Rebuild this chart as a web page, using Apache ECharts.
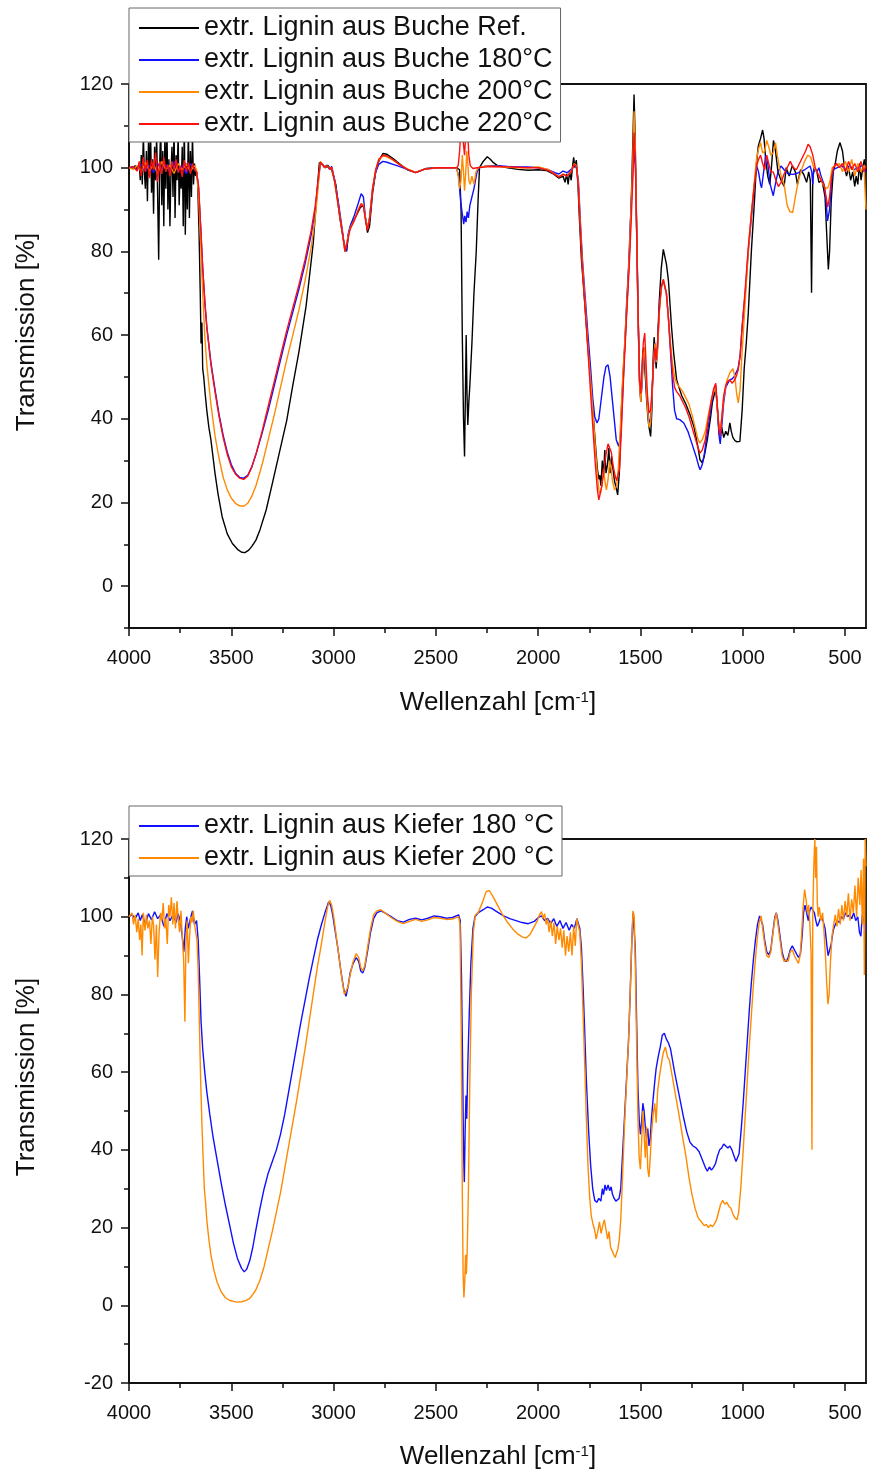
<!DOCTYPE html>
<html><head><meta charset="utf-8">
<script src="https://cdn.jsdelivr.net/npm/echarts@6/dist/echarts.min.js"></script>
<style>html,body{margin:0;padding:0;background:#fff}#c{width:869px;height:1474px}</style>
</head><body><div id="c"></div>
<script>
// ---------- DATA (wavenumber cm-1, transmission %) ----------
const xTicks = [4000, 3500, 3000, 2500, 2000, 1500, 1000, 500];
const yTicksTop = [0, 20, 40, 60, 80, 100, 120];
const yTicksBottom = [-20, 0, 20, 40, 60, 80, 100, 120];

const namesTop = ['extr. Lignin aus Buche Ref.', 'extr. Lignin aus Buche 180°C', 'extr. Lignin aus Buche 200°C', 'extr. Lignin aus Buche 220°C'];
const namesBottom = ['extr. Lignin aus Kiefer 180 °C', 'extr. Lignin aus Kiefer 200 °C'];

const bucheRef = [[4000,100],[3990,100],[3980,99.8],[3970,100.5],[3960,99.5],[3950,101],[3945,97],[3940,103],[3935,96],[3930,108],[3925,99],[3920,95],[3915,104],[3910,92],[3905,106],[3900,98],[3895,110],[3890,94],[3885,102],[3880,89],[3875,105],[3870,97],[3865,108],[3860,93],[3855,78],[3850,101],[3845,110],[3840,91],[3835,104],[3830,86],[3825,107],[3820,95],[3815,112],[3810,90],[3805,102],[3800,86],[3795,99],[3790,105],[3785,93],[3780,110],[3775,88],[3770,103],[3765,97],[3760,108],[3755,91],[3750,100],[3745,95],[3740,105],[3735,86],[3730,112],[3725,84],[3720,101],[3715,90],[3710,110],[3705,88],[3700,104],[3695,93],[3690,108],[3685,96],[3680,101],[3675,98],[3670,99],
[3665,97],[3658,85],[3652,70],[3648,58],[3644,63],[3640,52],[3635,50],[3628,46],[3620,42],[3610,38],[3600,35],[3590,31],[3580,27],[3565,22],[3545,16.6],[3520,12.5],[3495,10.2],[3470,8.8],[3450,8.1],[3434,8],[3415,8.6],[3400,9.5],[3380,11],[3360,13.5],[3330,18.2],[3300,24.5],[3266,31.8],[3230,39.5],[3201,47.7],[3170,56],[3135,66.9],[3100,82],[3085,92],[3070,101.2],[3060,101],[3050,100.5],[3040,100],[3030,100.6],[3020,100],[3010,99.5],[2990,96],[2970,88],[2950,82],[2937,80],[2928,84],[2915,86.5],[2890,88.5],[2870,90.5],[2855,91],[2845,88],[2835,84.5],[2825,86],[2810,94],[2795,99],[2780,101.5],[2760,103.4],[2740,103.2],[2710,102.2],[2680,101],[2640,99.5],[2600,98.8],[2580,99.2],[2550,99.8],[2500,100],[2450,100],[2400,100],[2385,99.5],[2378,90],[2372,60],[2366,40],[2361,31],[2357,45],[2353,60],[2349,46],[2345,38.5],[2340,44],[2335,48],[2325,58],[2315,70],[2304,79.8],[2295,92],[2288,100],[2270,101.5],[2250,102.6],[2235,102],[2220,101.2],[2200,100.5],[2150,100],[2100,99.6],[2050,99.4],[2000,99.5],[1960,99.3],[1930,98.6],[1900,97.5],[1880,98],[1870,96.5],[1862,98.5],[1855,96],[1848,99],[1840,97],[1833,100.5],[1828,102.5],[1822,100],[1815,101.8],[1808,97],[1800,88],[1790,78],[1782,73],[1770,65],[1758,57],[1745,49],[1733,41.4],[1722,34],[1712,28],[1705,25.5],[1700,26.5],[1695,24],[1688,30],[1682,26],[1676,32.5],[1670,27],[1663,29],[1656,33],[1650,27],[1643,31],[1636,28],[1628,25],[1620,23.5],[1613,21.8],[1605,27],[1595,42],[1585,52],[1578,57.3],[1565,70],[1554,81.3],[1545,95],[1538,108],[1533,117.5],[1528,108],[1520,85],[1513,65],[1506,49],[1500,44],[1495,50],[1490,56],[1485,57],[1480,52],[1472,45],[1465,40],[1460,38],[1452,35.8],[1446,42],[1440,54],[1435,59.5],[1431,57],[1425,52],[1420,56],[1410,68],[1400,76],[1390,80.5],[1383,80.3],[1375,77],[1365,73],[1350,62],[1340,56],[1325,49.3],[1310,47],[1300,45.5],[1280,43.5],[1260,41],[1240,38],[1220,33],[1211,30.2],[1200,29.5],[1190,31],[1175,35],[1160,40],[1150,44],[1140,46],[1133,47],[1125,42],[1118,37],[1114,36],[1105,38],[1095,35.5],[1085,37],[1075,36],[1065,39],[1058,37],[1050,35.5],[1040,34.8],[1030,34.5],[1016,34.6],[1005,42],[995,52],[985,58],[975,65.3],[960,80],[945,92],[935,101],[926,105.2],[915,107],[905,109],[898,107],[890,102],[880,98],[870,96],[862,100],[852,106.5],[842,104],[830,99],[815,97],[800,95.5],[790,100],[775,98],[760,100.5],[745,99],[735,96],[720,99.5],[705,98.5],[690,96.5],[680,99],[672,97],[666,70.1],[660,98],[650,100],[640,99],[630,96.5],[615,97],[600,93],[590,82],[584,75.7],[578,80],[570,92],[560,99],[550,101],[540,104],[527,106],[515,104],[505,100],[495,98],[485,100],[475,97],[465,99],[455,95.5],[448,98],[440,96],[432,101],[424,97],[416,100],[408,102],[400,99]];

const buche180 = [[4000,100],[3980,100.2],[3960,99.5],[3940,100.8],[3920,99.2],[3900,100.5],[3880,98.8],[3860,101],[3840,99.5],[3820,100.8],[3800,99],[3780,101.5],[3760,99],[3740,100.5],[3720,98.5],[3700,101],[3680,99.5],[3670,99],
[3660,95],[3650,86],[3640,76],[3630,68],[3620,62],[3600,53.5],[3580,47],[3560,41],[3540,36],[3520,32],[3500,29],[3480,27],[3460,26],[3440,25.8],[3420,26.5],[3400,28.5],[3380,31.5],[3350,36.5],[3320,42],[3290,48],[3260,54],[3230,60],[3200,65.5],[3170,71],[3140,77],[3110,84],[3090,90],[3075,97],[3065,101.2],[3055,100.8],[3045,100],[3035,100.6],[3020,99.6],[3010,100.3],[2995,97],[2975,91],[2955,84],[2945,80],[2937,80.5],[2930,84],[2920,86],[2900,88.5],[2880,91.5],[2866,93.8],[2855,93],[2845,88],[2835,85.5],[2825,88],[2810,95],[2795,99],[2780,100.8],[2760,101.5],[2740,101.3],[2710,100.8],[2680,100.3],[2640,99.6],[2600,98.9],[2560,99.6],[2500,100],[2450,100],[2400,100],[2390,98],[2380,92],[2372,89],[2365,86.5],[2360,88.5],[2354,87],[2348,89.5],[2342,88],[2335,91],[2325,93],[2315,95],[2300,99],[2290,100],[2250,100.5],[2200,100.5],[2150,100.3],[2100,100.2],[2050,100.2],[2000,100],[1950,99.5],[1920,98.8],[1900,98.5],[1880,99.2],[1860,98.8],[1840,99.6],[1825,100.5],[1815,100.2],[1805,97],[1795,87],[1785,78],[1770,68],[1758,60],[1745,52],[1735,45],[1725,40.5],[1714,39],[1705,40],[1695,44],[1680,50],[1670,52.5],[1660,52.9],[1650,50],[1640,45],[1630,40],[1620,35],[1608,33.4],[1598,36],[1590,44],[1580,56],[1570,67],[1560,76],[1550,88],[1540,98],[1533,104],[1526,100],[1520,84],[1513,64],[1506,49],[1500,44.5],[1494,48],[1488,54],[1482,56],[1476,50],[1468,44],[1460,39],[1452,40],[1445,46],[1438,54],[1431,58],[1425,53.5],[1418,57],[1410,66],[1400,71.5],[1390,73],[1383,73.2],[1375,70],[1365,64],[1355,56],[1345,48],[1335,42],[1325,40],[1310,39.8],[1290,39],[1270,37],[1250,34],[1230,31],[1216,28.5],[1210,27.8],[1200,29],[1190,31.5],[1180,35],[1165,40],[1150,45],[1140,47.5],[1134,48],[1126,42],[1118,36],[1112,34],[1105,38],[1095,44],[1085,47.5],[1075,48.5],[1065,49.3],[1055,49.5],[1045,50],[1035,51],[1025,52],[1015,55],[1005,62],[990,70],[975,80],[960,88],[945,96],[934,100.4],[925,99],[915,96],[910,95.2],[900,99],[890,103],[880,101],[868,96],[853,93.3],[845,95.5],[830,99],[815,100.4],[800,99.5],[780,98.5],[755,98.4],[730,98.8],[700,99.5],[673,100.4],[665,99],[660,96],[655,100],[640,99],[630,100],[620,98],[605,96],[595,92],[588,87.3],[578,90],[568,97],[559,99.6],[540,100],[520,100.5],[500,99.5],[480,100.5],[460,99.5],[440,100],[420,100.5],[400,99]];

const buche200 = [[4000,100],[3980,99.6],[3960,100.5],[3940,99],[3920,101.2],[3900,99.3],[3880,100.8],[3860,98.5],[3840,101.5],[3820,99.5],[3800,100.5],[3780,98.6],[3760,101],[3740,99.5],[3720,100.8],[3700,99.2],[3680,100.5],[3670,99.5],
[3660,93],[3650,82],[3640,70],[3630,60],[3620,53],[3600,43.5],[3580,36],[3560,30.5],[3540,26],[3520,23],[3500,21],[3480,19.8],[3460,19.2],[3440,19.1],[3420,19.8],[3400,21.5],[3380,24],[3350,29],[3320,35],[3290,41],[3260,47.5],[3230,54],[3200,60],[3170,66],[3140,73],[3110,81],[3090,88],[3075,96],[3065,101.5],[3055,100.8],[3045,100],[3035,100.5],[3020,99.8],[3010,100],[2995,96.5],[2975,90],[2955,83.5],[2945,80],[2937,80.3],[2930,83.5],[2920,85.5],[2900,87.5],[2880,90],[2866,91.5],[2855,91],[2845,88],[2835,85.5],[2825,88],[2810,95],[2795,99.5],[2780,101.8],[2760,102.8],[2740,102.6],[2710,101.8],[2680,100.8],[2640,99.7],[2600,98.9],[2560,99.6],[2500,100],[2450,100],[2400,100],[2392,98],[2385,95],[2378,97],[2372,103],[2366,99],[2361,94.5],[2355,99],[2350,104],[2345,101],[2340,97],[2333,96],[2325,98],[2315,96],[2305,99],[2295,100],[2250,100.4],[2200,100.3],[2150,100.1],[2100,100],[2050,100],[2000,100.2],[1950,99.5],[1920,98.5],[1900,97.8],[1880,98.5],[1860,98],[1840,99.2],[1825,101],[1815,100.5],[1805,96],[1795,86],[1785,77],[1770,66],[1758,57],[1745,49],[1733,41],[1722,33],[1712,26.5],[1705,23],[1698,22],[1690,24],[1682,28],[1675,25],[1668,23],[1660,25.5],[1652,30],[1645,28],[1638,25],[1628,23],[1618,24],[1610,28],[1600,38],[1590,48],[1580,57],[1570,66],[1560,75],[1550,87],[1540,100],[1533,113.5],[1527,105],[1520,84],[1513,63],[1506,48],[1500,44],[1494,49],[1488,55],[1482,57],[1476,51],[1468,43],[1460,38],[1452,39],[1445,46],[1438,54],[1431,58],[1425,53.5],[1418,56],[1410,65],[1400,71],[1390,73.3],[1383,73.5],[1375,70],[1365,64],[1355,58],[1345,53],[1335,50],[1325,48.5],[1310,47.5],[1295,46.5],[1280,45],[1265,43.5],[1250,41],[1235,38],[1220,35],[1211,34.2],[1200,35],[1185,37],[1170,41],[1155,44.5],[1145,46.5],[1134,47.5],[1126,42],[1118,38],[1112,36.5],[1105,40],[1095,45],[1080,49],[1065,51],[1050,52],[1040,50],[1032,46],[1024,43.8],[1015,47],[1005,56],[990,68],[975,80],[960,89],[945,97],[935,102],[925,104.5],[915,106],[905,103.5],[895,104],[885,106.5],[875,105],[865,103],[853,103.6],[842,106],[830,102],[815,98],[800,96],[785,91],[772,89.5],[758,89.3],[745,93],[730,97],[715,99.5],[700,101.5],[685,103],[670,102.5],[655,100],[640,99],[625,98],[610,96],[595,95],[585,95.3],[575,97],[565,100],[550,100.5],[530,101],[515,99],[500,101.5],[485,99],[470,102],[455,98],[440,101],[425,99],[410,100.5],[405,95],[400,90]];

const buche220 = [[4000,100],[3980,100.3],[3960,99.2],[3950,101.5],[3940,98],[3930,102.5],[3920,99],[3910,101.8],[3900,97.5],[3890,102],[3880,99.5],[3870,103.6],[3860,96.6],[3850,101.5],[3840,98.5],[3830,102.5],[3820,99],[3810,100.8],[3800,98],[3790,101.5],[3780,99.5],[3770,102],[3760,98.8],[3750,100.5],[3740,97.8],[3730,101.8],[3720,99],[3710,101.2],[3700,98.5],[3690,101],[3680,99.5],[3670,99],
[3660,95.5],[3650,86],[3640,76],[3630,68.5],[3620,62],[3600,53],[3580,46.5],[3560,40.5],[3540,35.5],[3520,31.5],[3500,28.5],[3480,26.8],[3460,25.8],[3440,25.5],[3420,26.3],[3400,28.5],[3380,31.5],[3350,37],[3320,43],[3290,49],[3260,55],[3230,61],[3200,66.5],[3170,72],[3140,78],[3110,85],[3090,91],[3075,97.5],[3065,101.3],[3055,100.7],[3045,100.1],[3035,100.5],[3020,99.7],[3010,100.1],[2995,96.5],[2975,90],[2955,83.5],[2945,80],[2937,79.8],[2930,83],[2920,85.3],[2900,87.3],[2880,89.8],[2866,91.3],[2855,90.8],[2845,87.5],[2835,85],[2825,87.8],[2810,95],[2795,99.5],[2780,102],[2760,103],[2740,102.8],[2710,101.9],[2680,100.8],[2640,99.6],[2600,98.8],[2560,99.6],[2500,100],[2450,100],[2400,100],[2392,100.5],[2385,104],[2378,110],[2372,113],[2367,106],[2361,103],[2355,108],[2350,113],[2345,108],[2340,103],[2333,100.5],[2320,99.8],[2300,100],[2250,100.2],[2200,100.3],[2150,100.2],[2100,100.1],[2050,100],[2000,100],[1950,99.3],[1920,98.4],[1900,97.8],[1880,98.4],[1860,98],[1840,99],[1825,100.8],[1815,100.3],[1805,95.5],[1795,85],[1785,76],[1770,65],[1758,56],[1745,46],[1733,37],[1722,29],[1712,23],[1705,20.6],[1698,21],[1690,24],[1680,28],[1670,31.5],[1660,34],[1652,34.2],[1644,32],[1636,29],[1626,26.5],[1618,25.2],[1611,25],[1604,28],[1596,36],[1588,46],[1578,56],[1568,66],[1558,75],[1548,86],[1540,96],[1533,108.4],[1527,103],[1520,84],[1513,64],[1506,49],[1500,46],[1494,52],[1488,58],[1481,60.5],[1475,54],[1468,46],[1460,41.4],[1452,42],[1445,47],[1438,53],[1431,57],[1425,54],[1418,58],[1410,66],[1400,71.5],[1390,73.3],[1383,73.2],[1375,70],[1365,64],[1355,57],[1345,51],[1335,47.5],[1325,46.5],[1310,45.5],[1295,44],[1280,42.5],[1265,40.5],[1250,38],[1235,35.5],[1220,33],[1211,31.8],[1200,32.5],[1185,35],[1170,40],[1155,44.5],[1145,47],[1134,48.5],[1126,43],[1118,37.5],[1112,36],[1105,40],[1095,45.5],[1085,48],[1075,49],[1065,49.3],[1055,48.5],[1045,49],[1035,50],[1025,51.5],[1015,55],[1005,62],[990,71],[975,81],[960,89],[945,96],[934,100.4],[925,102],[915,103],[905,101],[895,99.5],[885,103],[875,101],[865,99],[853,99],[840,97],[828,95.5],[815,96.5],[800,98.5],[785,100],[770,101.5],[755,100],[740,99.5],[725,101],[710,102.5],[695,104],[683,105.6],[673,105],[660,103],[648,100],[635,98.5],[620,97],[605,96],[595,93],[587,90.6],[578,93],[568,98],[559,100],[545,101],[530,100],[515,101],[500,99],[485,101.5],[470,99.5],[455,101],[440,99],[425,101.5],[410,99],[400,100.5]];

const kiefer180 = [[4000,100],[3985,100.5],[3970,99.5],[3955,101],[3945,99],[3935,100.5],[3920,98],[3905,100.8],[3890,99.2],[3875,101.3],[3860,99.5],[3845,100.5],[3830,97.5],[3815,100.8],[3800,99],[3785,100.5],[3770,98.5],[3760,100.8],[3750,99],[3740,95],[3732,91],[3725,97],[3718,100],[3710,97],[3700,99.5],[3690,101.5],[3680,98],[3670,99],[3662,94],[3655,84],[3648,73],[3640,66],[3630,60],[3620,55],[3605,49],[3590,43.5],[3570,37.5],[3550,31.5],[3530,26],[3510,21],[3490,16],[3470,12],[3450,9.5],[3437,8.6],[3425,9.3],[3410,11.5],[3395,15],[3380,19.5],[3360,25],[3340,30],[3320,34],[3300,37],[3280,40],[3260,44],[3240,49],[3220,55],[3200,61],[3180,67],[3160,73],[3140,78.5],[3120,84],[3100,89],[3080,94],[3060,98],[3040,101.5],[3025,103.8],[3015,103],[3005,100.5],[2995,97],[2980,92],[2965,86],[2950,81],[2940,79.5],[2930,82],[2920,85.5],[2905,88],[2890,89.5],[2878,88.5],[2868,86],[2858,85.5],[2848,87],[2835,91],[2820,96],[2805,99.5],[2790,101],[2770,101.5],[2750,101],[2720,100],[2690,99],[2660,98.6],[2630,99.3],[2600,99.6],[2570,99.2],[2540,99.6],[2510,100.2],[2480,100],[2450,99.6],[2420,99.8],[2390,100.5],[2382,99],[2376,85],[2370,60],[2366,40],[2362,31.7],[2358,45],[2354,54],[2350,48],[2345,62],[2338,75],[2330,88],[2320,97],[2310,100],[2295,101],[2270,101.8],[2250,102.5],[2230,102.2],[2200,101.2],[2170,100.2],[2140,99.5],[2110,99],[2080,98.5],[2050,98.2],[2020,98.8],[2000,99.8],[1985,100.2],[1970,99],[1955,99.6],[1940,98.2],[1925,99.5],[1910,97.5],[1895,99],[1880,97],[1865,98.5],[1850,96.5],[1838,98],[1825,97],[1812,99.5],[1805,99.8],[1798,97],[1790,92],[1782,82],[1775,72],[1766,58],[1755,45],[1745,36],[1735,30],[1725,27],[1715,26.5],[1705,27.5],[1695,26.8],[1688,30],[1682,28.5],[1675,31],[1668,29.5],[1660,31],[1652,29.5],[1645,30.5],[1638,28.5],[1630,27.5],[1622,26.8],[1615,26.5],[1606,27.5],[1598,30],[1590,38],[1580,48],[1570,58],[1560,68],[1552,80],[1545,92],[1538,101],[1532,100.5],[1527,92],[1520,72],[1514,56],[1508,48],[1502,44],[1496,47],[1490,52],[1484,50],[1478,46],[1472,43],[1466,45.5],[1460,41],[1454,43],[1448,48],[1440,53],[1432,57.5],[1425,61],[1415,64],[1405,66.5],[1395,69.5],[1385,70],[1375,68.5],[1365,67.5],[1355,66],[1345,63],[1335,60],[1320,56],[1305,52],[1290,48],[1275,44.5],[1260,42],[1245,41],[1230,40.5],[1215,39.5],[1200,37.5],[1185,35.5],[1175,34.5],[1165,35.6],[1155,34.8],[1145,35.5],[1135,36.5],[1125,38.5],[1115,40],[1105,40.5],[1095,41.5],[1085,41],[1075,40.5],[1065,41],[1055,40],[1045,38.5],[1035,37],[1028,36.5],[1020,39],[1010,45],[1000,52],[990,60],[980,68],[970,76],[960,83],[950,89],[940,94],[930,98],[920,100.2],[912,100.4],[905,98],[895,94],[885,91],[875,90.2],[865,91.5],[855,96],[845,100],[838,101],[830,99],[820,95],[810,91],[800,89],[790,88.5],[780,89.5],[770,91.5],[760,92.5],[750,91.5],[740,90.5],[730,89.5],[720,90.5],[712,95],[705,101],[698,103],[690,101],[682,99],[675,101.5],[668,102.5],[660,103],[652,101],[645,99],[638,97.5],[630,98.5],[620,100],[610,99],[600,97],[592,93],[585,90],[578,89.5],[570,93],[560,96.5],[550,98],[540,99],[530,98.5],[520,100],[510,99.5],[500,101],[490,100],[480,100.5],[470,99.5],[460,101],[450,99],[440,100],[432,96],[425,95],[418,100.5],[410,99],[403,96],[400,98]];

const kiefer200 = [[4000,100],[3992,99.5],[3985,101],[3978,98],[3970,100.5],[3962,96],[3955,99.5],[3948,94],[3942,98],[3936,90],[3930,101],[3922,96.5],[3915,100.5],[3908,97],[3900,99],[3893,93],[3886,100],[3880,98],[3873,89],[3866,98],[3860,84.5],[3853,96],[3846,101],[3840,99],[3833,103.5],[3826,97],[3820,99.5],[3813,93],[3806,103],[3800,100],[3793,105],[3786,98],[3780,103.5],[3773,97],[3766,104],[3760,100],[3753,96],[3746,101.5],[3740,95],[3733,89],[3727,73],[3722,93],[3716,99],[3710,88],[3704,95],[3698,100],[3692,98.5],[3686,101.5],[3680,98],[3674,96],[3668,94],[3662,86],[3656,72],[3650,58],[3644,47],[3638,38],[3632,30],[3626,26.5],[3620,22],[3610,17],[3600,13],[3585,9],[3570,6],[3550,3.5],[3530,2],[3510,1.3],[3490,1],[3470,0.8],[3450,0.9],[3430,1.2],[3410,1.8],[3395,2.8],[3380,4],[3360,6.5],[3340,10],[3320,14.5],[3300,19],[3280,24],[3260,29],[3240,35],[3220,41],[3200,47],[3180,53],[3160,59.5],[3140,66],[3120,73],[3100,80],[3080,87],[3060,93],[3045,98],[3030,102.5],[3020,104.2],[3010,103],[3000,100],[2990,96],[2975,90],[2960,84],[2948,80],[2940,79.5],[2930,82],[2920,85],[2905,88.5],[2890,90.5],[2878,89.5],[2868,87],[2858,86],[2848,87.5],[2835,92],[2820,97],[2805,100.5],[2790,101.5],[2770,101.8],[2750,101],[2720,99.8],[2690,98.8],[2660,98.2],[2630,98.8],[2600,99.3],[2570,98.8],[2540,99.2],[2510,99.8],[2480,99.6],[2450,99.3],[2420,99.4],[2390,100],[2383,98],[2377,70],[2372,30],[2368,8],[2364,2],[2360,6],[2356,13],[2352,8],[2348,14],[2342,30],[2336,55],[2328,80],[2318,96],[2308,100.5],[2295,101],[2275,103.5],[2255,106.5],[2240,106.7],[2225,105.5],[2200,103],[2175,100.5],[2150,98.5],[2125,96.8],[2100,95.5],[2080,94.8],[2060,94.5],[2040,95.5],[2020,97.5],[2005,99],[1995,100.5],[1985,101.3],[1978,99.5],[1970,100.8],[1962,98],[1955,99.5],[1948,96],[1940,99],[1932,95],[1924,98.5],[1916,93],[1908,97.5],[1900,94],[1892,97],[1884,92],[1876,96.5],[1868,90],[1860,95],[1852,91],[1844,96],[1836,90],[1828,97.5],[1820,92.5],[1813,99.5],[1806,99.8],[1798,96],[1790,88],[1782,75],[1774,62],[1766,48],[1758,36],[1750,28],[1742,23],[1734,21],[1726,19.5],[1718,17],[1710,19],[1702,21.5],[1694,18.5],[1686,20.5],[1678,22],[1670,19.5],[1662,17],[1655,19],[1648,15],[1640,14],[1632,13],[1625,12.3],[1618,12.8],[1612,14.5],[1605,17],[1598,22],[1590,32],[1580,46],[1570,57],[1560,68],[1552,80],[1545,92],[1538,101.5],[1532,100],[1527,88],[1520,66],[1514,48],[1508,38],[1502,35],[1496,42],[1490,50],[1484,44],[1478,38],[1472,46],[1466,35],[1460,33],[1454,38],[1448,44],[1440,49],[1432,52],[1425,47],[1418,55],[1410,58.5],[1400,62],[1390,65],[1380,66.5],[1370,64],[1360,63],[1350,60],[1340,57],[1325,52.5],[1310,48],[1295,43],[1280,38.5],[1265,33],[1250,28.5],[1235,25],[1220,22.5],[1205,21.5],[1190,20.5],[1180,20.8],[1170,20],[1160,20.7],[1150,20.2],[1140,21],[1130,22],[1120,24],[1110,26],[1100,27],[1090,26],[1080,26.5],[1070,25.5],[1060,25],[1050,23.5],[1040,22.5],[1030,22],[1022,24],[1012,30],[1002,38],[992,47],[982,56],[972,65],[962,73],[952,81],[942,88],[932,94],[922,98.5],[912,100.2],[905,97],[895,93],[885,90],[875,89.5],[865,91],[855,95.5],[845,99.5],[838,101],[830,98],[820,94],[810,90],[800,88.5],[790,89],[780,88.5],[770,91],[760,91.5],[750,90],[740,89],[730,88],[722,90],[715,95],[708,102],[700,107],[693,104.5],[686,101],[680,103],[674,98],[668,90],[664,40],[660,100],[655,113],[650,120],[646,110],[642,118],[638,104],[634,100],[628,102.5],[620,99],[612,101],[605,96],[598,90],[592,83],[586,77.5],[580,80],[574,88],[566,95],[558,98],[550,100.5],[542,97.5],[534,102],[526,98],[518,103],[510,99],[502,104],[494,100],[486,106],[478,99],[470,104.5],[462,101],[454,108],[446,100],[438,110],[430,103],[424,112],[418,98],[412,115],[408,85],[404,120],[400,113]];

// ---------- CHART ----------
const FONT = 'Liberation Sans, Arial, sans-serif';
const INK = '#111';
const colTop = ['#000000', '#1010ff', '#ff8a00', '#ff1010'];
const colBottom = ['#1010ff', '#ff8a00'];

const L = 129, RDATA = 3, RTICK = 24;         // px
const T1 = 84, H = 544;                        // top chart
const T2 = 839;                                // bottom chart
const H0 = H * 120 / 130;                      // 0..120 part of top chart

function hiddenAxis(gi, extra) {
  return Object.assign({gridIndex: gi, type: 'value', show: false, splitLine: {show: false}}, extra || {});
}
const axLine = {show: true, onZero: false, lineStyle: {color: INK, width: 1.8}};
const plain = v => String(v);

const grids = [
  {left: L, right: RDATA, top: T1, height: H, show: true, borderColor: INK, borderWidth: 1.8},
  {left: L, right: RTICK, top: T1, height: H},
  {left: L, right: RDATA, top: T1, height: H0},
  {left: L, right: RDATA, top: T2, height: H, show: true, borderColor: INK, borderWidth: 1.8},
  {left: L, right: RTICK, top: T2, height: H}
];

const dataX = gi => ({gridIndex: gi, type: 'value', min: 400, max: 4000, inverse: true,
  axisLine: axLine, axisTick: {show: false}, axisLabel: {show: false}, splitLine: {show: false}});
const tickX = gi => ({gridIndex: gi, type: 'value', min: xTicks[xTicks.length - 1], max: xTicks[0], interval: 500, inverse: true,
  axisLine: {show: false, onZero: false}, splitLine: {show: false},
  axisTick: {show: true, length: 8, lineStyle: {color: INK, width: 1.5}},
  minorTick: {show: true, splitNumber: 2, length: 5, lineStyle: {color: INK, width: 1.5}},
  axisLabel: {show: true, margin: 20, fontSize: 20, color: INK, fontFamily: FONT, formatter: plain}});

const xAxes = [dataX(0), tickX(1), hiddenAxis(2, {min: 400, max: 4000}), dataX(3), tickX(4)];
const yAxes = [
  {gridIndex: 0, type: 'value', min: -10, max: 120, interval: 10, axisLine: axLine, splitLine: {show: false},
    axisTick: {show: true, length: 5, lineStyle: {color: INK, width: 1.5}}, axisLabel: {show: false}},
  hiddenAxis(1, {min: 0, max: 1}),
  {gridIndex: 2, type: 'value', min: yTicksTop[0], max: yTicksTop[yTicksTop.length - 1], interval: 20,
    axisLine: {show: false, onZero: false}, splitLine: {show: false},
    axisTick: {show: true, length: 8, lineStyle: {color: INK, width: 1.5}},
    axisLabel: {show: true, margin: 16, fontSize: 20, color: INK, fontFamily: FONT, formatter: plain}},
  {gridIndex: 3, type: 'value', min: yTicksBottom[0], max: yTicksBottom[yTicksBottom.length - 1], interval: 20,
    axisLine: axLine, splitLine: {show: false},
    axisTick: {show: true, length: 8, lineStyle: {color: INK, width: 1.5}},
    minorTick: {show: true, splitNumber: 2, length: 5, lineStyle: {color: INK, width: 1.5}},
    axisLabel: {show: true, margin: 16, fontSize: 20, color: INK, fontFamily: FONT, formatter: plain}},
  hiddenAxis(4, {min: 0, max: 1})
];

function lineSeries(name, data, color, gi) {
  return {name, type: 'line', xAxisIndex: gi, yAxisIndex: gi, data, symbol: 'none', showSymbol: false, silent: true,
    animation: false, clip: true, lineStyle: {color, width: 1.4}, itemStyle: {color}};
}
const topData = [bucheRef, buche180, buche200, buche220];
const bottomData = [kiefer180, kiefer200];
const series = [];
topData.forEach((d, i) => series.push(lineSeries(namesTop[i], d, colTop[i], 0)));
bottomData.forEach((d, i) => series.push(lineSeries(namesBottom[i], d, colBottom[i], 3)));

const legendBase = {orient: 'vertical', icon: 'rect', itemWidth: 60, itemHeight: 2, itemGap: 4,
  backgroundColor: '#fff', borderColor: '#666', borderWidth: 1, padding: [6, 8, 4, 10], z: 20,
  textStyle: {fontSize: 27, color: INK, fontFamily: FONT, lineHeight: 28}};

const titleFont = '26px ' + FONT;
function xTitle(y) {
  return {type: 'text', x: 498, y: y, z: 30, style: {
    text: '{a|Wellenzahl [cm}{s|-1}{a|]}', align: 'center', verticalAlign: 'middle',
    rich: {a: {fontSize: 26, fontFamily: FONT, fill: INK, color: INK}, s: {fontSize: 15, fontFamily: FONT, fill: INK, color: INK, verticalAlign: 'top', padding: [0, 0, 10, 0]}}}};
}
function yTitle(y) {
  return {type: 'text', x: 27, y: y, rotation: Math.PI / 2, z: 30, style: {
    text: 'Transmission [%]', font: titleFont, fill: INK, align: 'center', verticalAlign: 'middle'}};
}

const chart = echarts.init(document.getElementById('c'), null, {renderer: 'canvas'});
chart.setOption({
  animation: false,
  backgroundColor: '#fff',
  grid: grids,
  xAxis: xAxes,
  yAxis: yAxes,
  legend: [
    Object.assign({}, legendBase, {left: 129, top: 8, data: namesTop}),
    Object.assign({}, legendBase, {left: 129, top: 806, data: namesBottom})
  ],
  graphic: [xTitle(703), xTitle(1457), yTitle(332), yTitle(1077)],
  series
});
</script></body></html>
